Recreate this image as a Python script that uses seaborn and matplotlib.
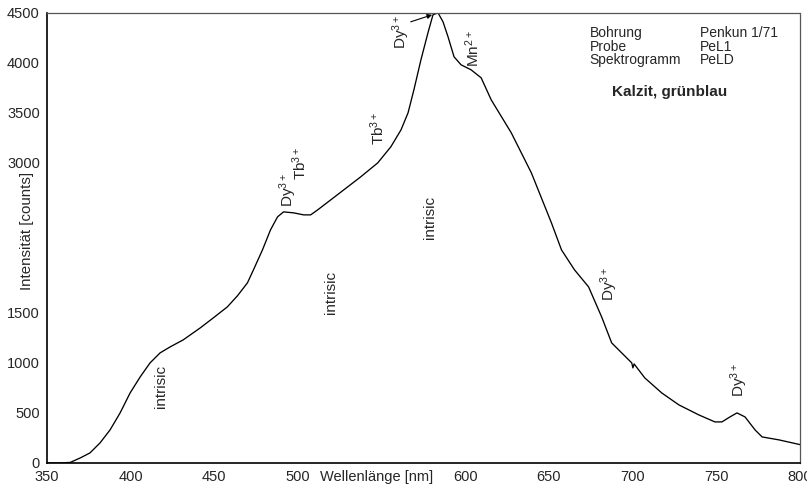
import matplotlib
matplotlib.use("Agg")
import matplotlib.pyplot as plt
import seaborn as sns
import pandas as pd

# Spectrum (wavelength nm, intensity counts)
wavelength = [350, 358, 364, 370, 375.8, 381.8, 387.8, 393.8, 399.8, 405.8, 411.7,
              417.7, 423.7, 431.5, 441.7, 449.5, 457.9, 463.9, 469.9, 473.5, 478.9,
              483.7, 487.9, 491.5, 497.5, 503.5, 507.7, 511.9, 519.7, 527.5, 537.6,
              547.8, 555.6, 561.7, 565.9, 569.4, 573.6, 577.8, 580.8, 583.8, 586.8,
              589.8, 593.4, 597.6, 603.6, 609.6, 615.6, 627.6, 639.6, 651.6, 657.6,
              665.4, 673.8, 681.6, 687.6, 693.6, 699.6, 700.3, 701, 707.4, 717.5,
              727.8, 739.7, 749.3, 753.5, 758.3, 762.5, 767.3, 773.3, 777.5, 787.7,
              801]
intensity = [0, 0, 5, 50, 100, 200, 330, 500, 700, 860, 1000,
             1100, 1160, 1230, 1350, 1450, 1560, 1670, 1800, 1930, 2130,
             2330, 2460, 2510, 2500, 2480, 2480, 2530, 2630, 2730, 2860,
             3000, 3160, 3330, 3500, 3730, 4030, 4300, 4480, 4500, 4410,
             4260, 4060, 3980, 3930, 3850, 3630, 3300, 2900, 2400, 2130,
             1930, 1760, 1460, 1200, 1100, 1000, 950, 990, 850, 700,
             580, 480, 410, 410, 460, 500, 460, 330, 260, 230,
             180]

x_ticks = [350, 400, 450, 500, 550, 600, 650, 700, 750, 800]
x_tick_labels = ["350", "400", "450", "500", "", "600", "650", "700", "750", "800"]
y_ticks = [0, 500, 1000, 1500, 2000, 2500, 3000, 3500, 4000, 4500]
y_tick_labels = ["0", "500", "1000", "1500", "", "", "3000", "3500", "4000", "4500"]

# label text, x (nm), y (counts)
notes = [
    ("intrisic", 418, 760),
    ("intrisic", 519.7, 1700),
    ("intrisic", 579, 2450),
    ("Dy$^{3+}$", 494.5, 2730),
    ("Tb$^{3+}$", 501, 3000),
    ("Tb$^{3+}$", 548, 3350),
    ("Dy$^{3+}$", 561.7, 4310),
    ("Mn$^{2+}$", 604.5, 4140),
    ("Dy$^{3+}$", 686.3, 1790),
    ("Dy$^{3+}$", 763.7, 830),
]

sns.set_theme(style="white")
plt.rcParams.update({
    "font.family": ["Liberation Sans", "DejaVu Sans"],
    "mathtext.fontset": "custom",
    "mathtext.rm": "Liberation Sans",
    "mathtext.it": "Liberation Sans",
    "mathtext.bf": "Liberation Sans:bold",
})

df = pd.DataFrame({"nm": wavelength, "counts": intensity})

fig = plt.figure(figsize=(8.07, 4.93), dpi=100)
ax = fig.add_axes([0.058, 0.061, 0.933, 0.913])
sns.lineplot(data=df, x="nm", y="counts", ax=ax, color="black",
             linewidth=0.95, estimator=None, sort=False)

ax.set_xlim(350, 800)
ax.set_ylim(0, 4500)
ax.set_xticks(x_ticks)
ax.set_xticklabels(x_tick_labels, fontsize=10.5)
ax.set_yticks(y_ticks)
ax.set_yticklabels(y_tick_labels, fontsize=10.5)
ax.tick_params(direction="out", length=3, width=0.8, color="black", pad=2)

ax.set_xlabel("Wellenlänge [nm]", fontsize=10.5)
ax.xaxis.set_label_coords(0.438, -0.016)
ax.xaxis.label.set_verticalalignment("top")
ax.set_ylabel("Intensität [counts]", fontsize=10.8)
ax.yaxis.set_label_coords(-0.017, 0.516)

for side in ["left", "bottom"]:
    ax.spines[side].set_color("black")
    ax.spines[side].set_linewidth(1.2)
for side in ["top", "right"]:
    ax.spines[side].set_color("#555555")
    ax.spines[side].set_linestyle((0, (1, 1)))
    ax.spines[side].set_linewidth(0.9)

for text, xv, yv in notes:
    ax.text(xv, yv, text, rotation=90, ha="center", va="center", fontsize=11)

ax.annotate("", xy=(580.3, 4480), xytext=(567.5, 4410),
            arrowprops=dict(arrowstyle="-|>", color="black", lw=0.8,
                            mutation_scale=7, shrinkA=0, shrinkB=0))

info = [("Bohrung", "Penkun 1/71"), ("Probe", "PeL1"), ("Spektrogramm", "PeLD")]
for i, (k, v) in enumerate(info):
    ax.text(0.721, 0.955 - i * 0.03, k, transform=ax.transAxes, fontsize=10,
            va="center", ha="left")
    ax.text(0.867, 0.955 - i * 0.03, v, transform=ax.transAxes, fontsize=10,
            va="center", ha="left")
ax.text(0.827, 0.824, "Kalzit, grünblau", transform=ax.transAxes, fontsize=11,
        fontweight="bold", va="center", ha="center")

fig.savefig("out.png", dpi=100)
